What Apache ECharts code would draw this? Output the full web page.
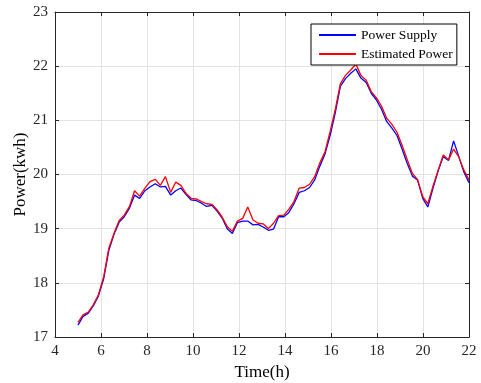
<!DOCTYPE html>
<html>
<head>
<meta charset="utf-8">
<script src="https://cdn.jsdelivr.net/npm/echarts@6/dist/echarts.min.js"></script>
<style>
  html, body { margin: 0; padding: 0; background: #fff; }
  #chart { width: 481px; height: 383px; }
</style>
</head>
<body>
<div id="chart"></div>
<script>
var times = [5.00, 5.22, 5.45, 5.67, 5.89, 6.12, 6.34, 6.57, 6.79, 7.01,
    7.24, 7.46, 7.68, 7.91, 8.13, 8.36, 8.58, 8.80, 9.03, 9.25,
    9.47, 9.70, 9.92, 10.14, 10.37, 10.59, 10.82, 11.04, 11.26, 11.49,
    11.71, 11.93, 12.16, 12.38, 12.61, 12.83, 13.05, 13.28, 13.50, 13.72,
    13.95, 14.17, 14.39, 14.62, 14.84, 15.07, 15.29, 15.51, 15.74, 15.96,
    16.18, 16.41, 16.63, 16.86, 17.08, 17.30, 17.53, 17.75, 17.97, 18.20,
    18.42, 18.64, 18.87, 19.09, 19.32, 19.54, 19.76, 19.99, 20.21, 20.43,
    20.66, 20.88, 21.11, 21.33, 21.55, 21.78, 22.00];

var supply = [17.22, 17.38, 17.44, 17.58, 17.76, 18.08, 18.60, 18.90, 19.12, 19.22,
    19.38, 19.62, 19.56, 19.70, 19.77, 19.83, 19.77, 19.78, 19.62, 19.70,
    19.75, 19.63, 19.53, 19.52, 19.47, 19.41, 19.43, 19.33, 19.20, 19.00,
    18.91, 19.11, 19.14, 19.14, 19.07, 19.08, 19.03, 18.97, 18.99, 19.22,
    19.22, 19.30, 19.46, 19.67, 19.70, 19.76, 19.90, 20.15, 20.38, 20.72,
    21.13, 21.63, 21.77, 21.87, 21.95, 21.78, 21.70, 21.50, 21.38, 21.20,
    20.98, 20.86, 20.72, 20.47, 20.20, 19.97, 19.90, 19.56, 19.40, 19.74,
    20.07, 20.33, 20.26, 20.62, 20.34, 20.04, 19.85];

var estimated = [17.27, 17.41, 17.46, 17.60, 17.78, 18.12, 18.64, 18.92, 19.15, 19.25,
    19.41, 19.70, 19.60, 19.75, 19.87, 19.91, 19.80, 19.96, 19.67, 19.86,
    19.80, 19.65, 19.56, 19.55, 19.50, 19.46, 19.45, 19.35, 19.22, 19.04,
    18.95, 19.14, 19.19, 19.40, 19.16, 19.10, 19.09, 19.00, 19.10, 19.24,
    19.25, 19.36, 19.50, 19.75, 19.76, 19.82, 19.96, 20.21, 20.42, 20.79,
    21.19, 21.68, 21.83, 21.93, 22.04, 21.83, 21.74, 21.53, 21.42, 21.26,
    21.04, 20.93, 20.78, 20.54, 20.27, 20.02, 19.91, 19.59, 19.46, 19.78,
    20.08, 20.36, 20.27, 20.47, 20.33, 20.08, 19.90];

var seriesNames = ['Power Supply', 'Estimated Power'];

function pairs(xs, ys) {
    return xs.map(function (x, i) { return [x, ys[i]]; });
}

var font = 'Liberation Serif, Times New Roman, serif';
var axisColor = '#262626';

var chart = echarts.init(document.getElementById('chart'));
var option = {
    animation: false,
    backgroundColor: '#fff',
    grid: { left: 55, right: 12, top: 12, bottom: 46, outerBoundsMode: 'none', containLabel: false },
    legend: {
        orient: 'vertical',
        left: 311,
        top: 24,
        backgroundColor: '#fff',
        borderColor: '#000',
        borderWidth: 1,
        borderRadius: 0,
        padding: [4, 4, 4, 8],
        itemGap: 5,
        itemWidth: 37,
        itemHeight: 2,
        icon: 'rect',
        textStyle: { fontFamily: font, fontSize: 13.5, color: '#000' },
        data: seriesNames
    },
    xAxis: [{
        type: 'value',
        min: 4, max: 22, interval: 2,
        name: 'Time(h)',
        nameLocation: 'middle',
        nameGap: 27,
        nameMoveOverlap: false,
        nameTextStyle: { fontFamily: font, fontSize: 17, color: '#000' },
        axisLine: { onZero: false, lineStyle: { color: axisColor, width: 1 } },
        axisTick: { inside: true, length: 4, lineStyle: { color: axisColor } },
        axisLabel: { fontFamily: font, fontSize: 15, color: '#262626', margin: 7 },
        splitLine: { show: true, lineStyle: { color: '#e3e3e3', width: 1 } }
    }, {
        type: 'value', position: 'top',
        min: 4, max: 22, interval: 2,
        axisLine: { onZero: false, lineStyle: { color: axisColor, width: 1 } },
        axisTick: { inside: true, length: 4, lineStyle: { color: axisColor } },
        axisLabel: { show: false },
        splitLine: { show: false }
    }],
    yAxis: [{
        type: 'value',
        min: 17, max: 23, interval: 1,
        name: 'Power(kwh)',
        nameLocation: 'middle',
        nameGap: 26,
        nameMoveOverlap: false,
        nameTextStyle: { fontFamily: font, fontSize: 17, color: '#000' },
        axisLine: { show: true, onZero: false, lineStyle: { color: axisColor, width: 1 } },
        axisTick: { show: true, inside: true, length: 4, lineStyle: { color: axisColor } },
        axisLabel: { fontFamily: font, fontSize: 15, color: '#262626', margin: 7 },
        splitLine: { show: true, lineStyle: { color: '#e3e3e3', width: 1 } }
    }, {
        type: 'value', position: 'right',
        min: 17, max: 23, interval: 1,
        axisLine: { show: true, onZero: false, lineStyle: { color: axisColor, width: 1 } },
        axisTick: { show: true, inside: true, length: 4, lineStyle: { color: axisColor } },
        axisLabel: { show: false },
        splitLine: { show: false }
    }],
    series: [{
        name: seriesNames[0],
        type: 'line',
        symbol: 'none',
        color: '#0000ff',
        lineStyle: { width: 1.3, color: '#0000ff' },
        data: pairs(times, supply)
    }, {
        name: seriesNames[1],
        type: 'line',
        symbol: 'none',
        color: '#ff0000',
        lineStyle: { width: 1.3, color: '#ff0000' },
        data: pairs(times, estimated)
    }]
};
chart.setOption(option);
</script>
</body>
</html>
